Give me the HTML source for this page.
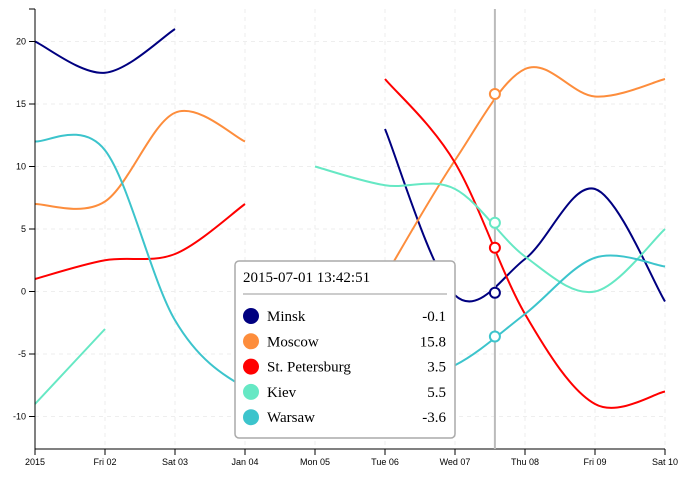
<!DOCTYPE html>
<html><head><meta charset="utf-8"><style>
body{margin:0;background:#fff;}
svg{display:block;font-family:"Liberation Sans",sans-serif;}
</style></head><body>
<svg id="chart" width="695" height="479"></svg>
<script>
const categories=["2015","Fri 02","Sat 03","Jan 04","Mon 05","Tue 06","Wed 07","Thu 08","Fri 09","Sat 10"];
const seriesNames=["Minsk","Moscow","St. Petersburg","Kiev","Warsaw"];
const minsk=[20,17.5,21,null,null,13,-0.3,2.6,8.2,-0.8];
const moscow=[7,7.2,14.3,12,null,1.2,10.5,17.8,15.6,17];
const stpete=[1,2.5,3,7,null,17,10.3,-1.8,-9,-8];
const kiev=[-9,-3,null,null,10,8.5,8.2,2.8,0,5];
const warsaw=[12,11.3,-2.3,-7.7,-9,-7.5,-5.9,-1.8,2.7,2];
const yTicks=[-10,-5,0,5,10,15,20];
const hoverDay=6.57;
const hoverValues=[-0.1,15.8,3.5,5.5,-3.6];
const hoverLabel="2015-07-01 13:42:51";
const colors=["#000080","#fd8d3c","#ff0000","#66e8c4","#3cc4cc"];
const series=[minsk,moscow,stpete,kiev,warsaw];

const NS="http://www.w3.org/2000/svg";
const svg=document.getElementById('chart');
const X0=35,X1=665,Y0=449,Y1=9,yMin=-12.6,yMax=22.6;
const xs=d=>X0+(X1-X0)*d/(categories.length-1);
const ys=v=>Y0-(v-yMin)/(yMax-yMin)*(Y0-Y1);
function mk(tag,attrs,parent){const e=document.createElementNS(NS,tag);for(const k in attrs)e.setAttribute(k,attrs[k]);(parent||svg).appendChild(e);return e;}

yTicks.forEach(t=>{const l=mk('line',{x1:X0,x2:X1,y1:ys(t),y2:ys(t),stroke:'#eee','stroke-dasharray':'4,4'});

});
categories.forEach((c,i)=>{const l=mk('line',{x1:xs(i),x2:xs(i),y1:Y1,y2:Y0,stroke:'#eee','stroke-dasharray':'4,4'});

});

function pathFor(arr){let d='';let runs=[],cur=[];
arr.forEach((v,i)=>{if(v==null){if(cur.length)runs.push(cur);cur=[];}else cur.push([xs(i),ys(v)]);});
if(cur.length)runs.push(cur);
runs.forEach(p=>{if(p.length<2)return;const n=p.length;d+='M'+p[0][0]+','+p[0][1];
for(let i=0;i<n-1;i++){const a=p[Math.max(i-1,0)],b=p[i],c=p[i+1],e=p[Math.min(i+2,n-1)];
const c1=[b[0]+(c[0]-a[0])/6,b[1]+(c[1]-a[1])/6],c2=[c[0]-(e[0]-b[0])/6,c[1]-(e[1]-b[1])/6];
d+='C'+c1+' '+c2+' '+c;}});return d;}
series.forEach((s,k)=>{const p=mk('path',{d:pathFor(s),fill:'none',stroke:colors[k],'stroke-width':2});

});

const ax=mk('g',{'font-size':9,fill:'#000'});


mk('line',{x1:X0,x2:X0,y1:Y1,y2:Y0,stroke:'#000'},ax);
mk('line',{x1:X0,x2:X1,y1:Y0,y2:Y0,stroke:'#000'},ax);
mk('line',{x1:X0-6,x2:X0,y1:Y1,y2:Y1,stroke:'#000'},ax);
yTicks.forEach(t=>{mk('line',{x1:X0-6,x2:X0,y1:ys(t),y2:ys(t),stroke:'#000'},ax);
const tx=mk('text',{x:X0-9,y:ys(t)+3,'text-anchor':'end'},ax);tx.textContent=t;

});
categories.forEach((c,i)=>{mk('line',{x1:xs(i),x2:xs(i),y1:Y0,y2:Y0+6,stroke:'#000'},ax);
const tx=mk('text',{x:xs(i),y:Y0+16,'text-anchor':'middle'},ax);tx.textContent=c;

});

const hx=xs(hoverDay);
const hl=mk('line',{x1:hx,x2:hx,y1:Y1,y2:Y0,stroke:'#bbb','stroke-width':2});


hoverValues.forEach((v,k)=>{const c=mk('circle',{cx:hx,cy:ys(v),r:5,fill:'#fff',stroke:colors[k],'stroke-width':2});

});

const tg=mk('g',{});


mk('rect',{x:235,y:261,width:220,height:177,rx:4,fill:'#fff',stroke:'#aaa','stroke-width':1.5},tg);
const tt=mk('text',{x:243,y:282,'font-size':15,'font-family':'"Liberation Serif",serif'},tg);tt.textContent=hoverLabel;


mk('line',{x1:243,x2:447,y1:294,y2:294,stroke:'#999'},tg);
hoverValues.forEach((v,k)=>{const y=316+k*25.3;
mk('circle',{cx:251,cy:y,r:8,fill:colors[k]},tg);
const n=mk('text',{x:267,y:y+5,'font-size':15,'font-family':'"Liberation Serif",serif'},tg);n.textContent=seriesNames[k];


const vt=mk('text',{x:446,y:y+5,'font-size':15,'text-anchor':'end','font-family':'"Liberation Serif",serif'},tg);vt.textContent=v.toFixed(1);

});
</script>
</body></html>
